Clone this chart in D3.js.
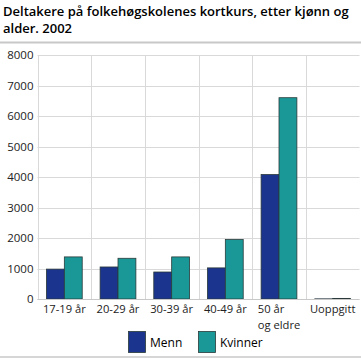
<!DOCTYPE html>
<html><head><meta charset="utf-8">
<script src="https://cdn.jsdelivr.net/npm/d3@7"></script>
<style>
body{margin:0;background:#fff;}
svg{display:block;font-family:"Open Sans",sans-serif;}
</style></head>
<body>
<svg id="c" width="361" height="359"></svg>
<script>
const categories = ["17-19 år","20-29 år","30-39 år","40-49 år","50 år\nog eldre","Uoppgitt"];
const seriesNames = ["Menn","Kvinner"];
const menn = [980, 1050, 885, 1020, 4080, 5];
const kvinner = [1380, 1335, 1380, 1950, 6600, 20];
const yTicks = [0,1000,2000,3000,4000,5000,6000,7000,8000];
const colors = ["#1b348e","#1a9898"];

const svg = d3.select("#c");
const m = {left:37.5, right:359.5, top:55, bottom:299};

svg.append("text").attr("x",3).attr("y",16).attr("font-size",13).attr("font-weight",600).attr("fill","#000")
  .text("Deltakere på folkehøgskolenes kortkurs, etter kjønn og");
svg.append("text").attr("x",3).attr("y",33).attr("font-size",13).attr("font-weight",600).attr("fill","#000")
  .text("alder. 2002");
svg.append("line").attr("x1",0).attr("x2",361).attr("y1",42.5).attr("y2",42.5).attr("stroke","#c8c8c8").attr("stroke-width",2);
svg.append("line").attr("x1",0).attr("x2",361).attr("y1",357).attr("y2",357).attr("stroke","#c8c8c8").attr("stroke-width",1.5);

const x = d3.scaleBand().domain(categories).range([m.left,m.right]);
const y = d3.scaleLinear().domain([0,8000]).range([m.bottom,m.top]);
const xs = d3.scaleBand().domain(seriesNames).range([0,x.bandwidth()]).paddingOuter(0.5).paddingInner(0);

// horizontal grid
svg.append("g").selectAll("line").data(yTicks).join("line")
  .attr("x1",m.left).attr("x2",m.right).attr("y1",d=>Math.round(y(d))+0.5).attr("y2",d=>Math.round(y(d))+0.5)
  .attr("stroke","#d9d9d9");
// vertical grid
svg.append("g").selectAll("line").data(categories).join("line")
  .attr("x1",d=>Math.round(x(d))+0.5).attr("x2",d=>Math.round(x(d))+0.5).attr("y1",m.top).attr("y2",m.bottom)
  .attr("stroke","#d9d9d9");

// y axis labels
const yAxis = d3.axisLeft(y).tickValues(yTicks).tickSize(0).tickPadding(4).tickFormat(d3.format("d"));
const ga = svg.append("g").attr("transform",`translate(${m.left},0)`).call(yAxis);
ga.select(".domain").remove();
ga.selectAll("text").attr("font-size",11.5).attr("fill","#222").attr("font-family","Open Sans, sans-serif");

// bars
const data = [menn,kvinner];
data.forEach((vals,si)=>{
  svg.append("g").selectAll("rect").data(categories).join("rect")
    .attr("x",d=>x(d)+xs(seriesNames[si]))
    .attr("width",xs.bandwidth())
    .attr("y",(d,i)=>y(vals[i]))
    .attr("height",(d,i)=>y(0)-y(vals[i]))
    .attr("fill",colors[si]).attr("stroke","#2a3a3a").attr("stroke-width",0.8);
});

// baseline
svg.append("line").attr("x1",m.left).attr("x2",m.right).attr("y1",m.bottom+0.5).attr("y2",m.bottom+0.5).attr("stroke","#c8c8c8");

// x labels (each line its own text element)
const xl = svg.append("g");
categories.forEach(c=>{
  const lines = c.split("\n");
  const ts = lines.map((l,i)=>xl.append("text").attr("font-size",11.2).attr("fill","#222").attr("y",313+i*15.5).text(l));
  const w = d3.max(ts, t=>t.node().getComputedTextLength());
  const cx = x(c)+x.bandwidth()/2;
  ts.forEach(t=>t.attr("x",cx-w/2));
});

// legend
const lg = [{n:"Menn",x:128},{n:"Kvinner",x:198}];
lg.forEach((d,i)=>{
  svg.append("rect").attr("x",d.x+0.5).attr("y",331.5).attr("width",17).attr("height",21).attr("fill",colors[i]).attr("stroke","#2a3a3a").attr("stroke-width",0.8);
  svg.append("text").attr("x",d.x+22).attr("y",347).attr("font-size",12).attr("fill","#000").text(d.n);
});
</script>
</body></html>
